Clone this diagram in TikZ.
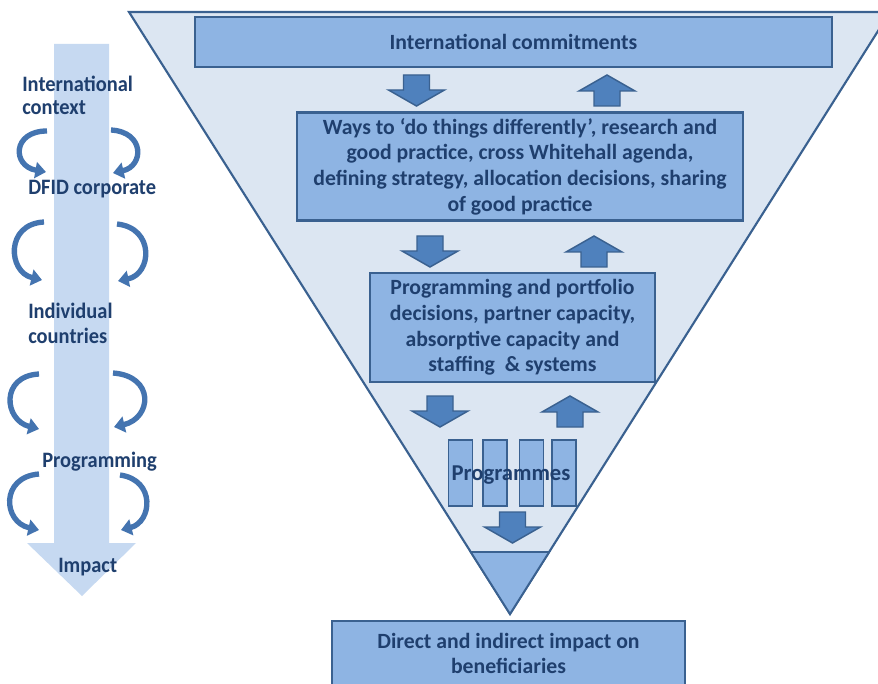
\documentclass[tikz,border=0pt]{standalone}
\usepackage{fontspec}
\setmainfont{Carlito}
\newfontfamily\labelfont[FakeStretch=0.93]{Carlito}
\usetikzlibrary{arrows.meta,calc}

\definecolor{edge}{HTML}{3A6190}
\definecolor{boxfill}{HTML}{8EB4E3}
\definecolor{funnelfill}{HTML}{DCE6F2}
\definecolor{arrowfill}{HTML}{4F81BD}
\definecolor{ink}{HTML}{1F3F6E}
\definecolor{spine}{HTML}{C6D9F1}
\definecolor{curl}{HTML}{4474B0}

\tikzset{
  stagebox/.style={draw=edge, fill=boxfill, line width=1.6pt, inner sep=0pt,
    text=ink, align=center},
  bar/.style={draw=edge, fill=boxfill, line width=1.3pt, inner sep=0pt,
    minimum width=18pt, minimum height=49.5pt},
  blockarrow/.style={draw=edge, fill=arrowfill, line width=1.1pt, line join=miter},
  levellabel/.style={anchor=base west, inner sep=0pt, text=ink,
    font=\labelfont\bfseries\fontsize{16.5}{19}\selectfont},
  curlarrow/.style={draw=curl, line width=4pt,
    -{Triangle[width=12pt,length=8pt]}},
  pics/downblock/.style={code={
    \draw[blockarrow] (-13,0) -- (13,0) -- (13,15) -- (28,15) -- (0,31)
      -- (-28,15) -- (-13,15) -- cycle;
  }},
  pics/upblock/.style={code={
    \draw[blockarrow] (-13,31) -- (13,31) -- (13,16) -- (28,16) -- (0,0)
      -- (-28,16) -- (-13,16) -- cycle;
  }},
}

\begin{document}
\begin{tikzpicture}[x=0.75pt,y=-0.75pt,
  font=\bfseries\fontsize{16.3}{19.2}\selectfont]
\clip (0,0) rectangle (878,684);
\fill[white] (0,0) rectangle (878,684);

% ---------- left: levels running down to impact ----------
\fill[spine] (54,44) -- (109,44) -- (109,543) -- (136,543) -- (82,596)
  -- (27,543) -- (54,543) -- cycle;

\node[levellabel] (intl1) at (22,92) {International};
\node[levellabel] (intl2) at (22,115) {context};
\node[levellabel] (dfid) at (28,195) {DFID corporate};
\node[levellabel] (indiv1) at (28,319) {Individual};
\node[levellabel] (indiv2) at (28,343) {countries};
\node[levellabel] (prog) at (42,467) {Programming};
\node[levellabel] (impact) at (58,572) {Impact};

% curved arrows either side of the spine
\draw[curlarrow] (47,131) .. controls (12,131) and (12,166) .. (46,172);
\draw[curlarrow] (111,130) .. controls (145,132) and (144,166) .. (113,173);
\draw[curlarrow] (44,222) .. controls (5,224) and (8,272) .. (42,280);
\draw[curlarrow] (117,224) .. controls (155,228) and (152,274) .. (118,281);
\draw[curlarrow] (39,374) .. controls (0,376) and (4,420) .. (39,429);
\draw[curlarrow] (113,373) .. controls (155,376) and (152,418) .. (114,427);
\draw[curlarrow] (39,474) .. controls (0,477) and (3,522) .. (39,530);
\draw[curlarrow] (120,475) .. controls (156,480) and (152,522) .. (121,530);

% ---------- right: the funnel ----------
\coordinate (ftl) at (129,12);
\coordinate (ftr) at (890,12);
\coordinate (apex) at (510,614);
\draw[draw=edge, fill=funnelfill, line width=1.6pt, line join=miter]
  (ftl) -- (ftr) -- (apex) -- cycle;
\draw[draw=edge, fill=boxfill, line width=1.4pt, line join=miter]
  ($(apex)!0.103!(ftl)$) -- ($(apex)!0.103!(ftr)$) -- (apex) -- cycle;

\node[stagebox, minimum width=477.75pt, minimum height=37.5pt]
  (commit) at (513.5,42) {International commitments};
\node[stagebox, minimum width=334.5pt, minimum height=81pt]
  (ways) at (520,166.5) {Ways to ‘do things differently’, research and\\
  good practice, cross Whitehall agenda,\\
  defining strategy, allocation decisions, sharing\\
  of good practice};
\node[stagebox, minimum width=213.75pt, minimum height=82pt]
  (portfolio) at (512.5,327.5) {Programming and portfolio\\
  decisions, partner capacity,\\
  absorptive capacity and\\
  staffing\ \ \& systems};

\node[bar] (bar1) at (460.5,473) {};
\node[bar] (bar2) at (495,473) {};
\node[bar] (bar3) at (531.5,473) {};
\node[bar] (bar4) at (564,473) {};
\node[text=ink, inner sep=0pt, font=\bfseries\fontsize{17}{19}\selectfont]
  (progs) at (511,475) {Programmes};

\node[stagebox, minimum width=264.75pt, minimum height=48.75pt]
  (benef) at (508.5,653.5) {Direct and indirect impact on\\beneficiaries};

% block arrows between the stages
\pic at (416.5,75) {downblock};
\pic at (607,75) {upblock};
\pic at (430,236) {downblock};
\pic at (594,236) {upblock};
\pic at (440,396) {downblock};
\pic at (570,396) {upblock};
\pic at (512.5,512) {downblock};
\end{tikzpicture}
\end{document}
